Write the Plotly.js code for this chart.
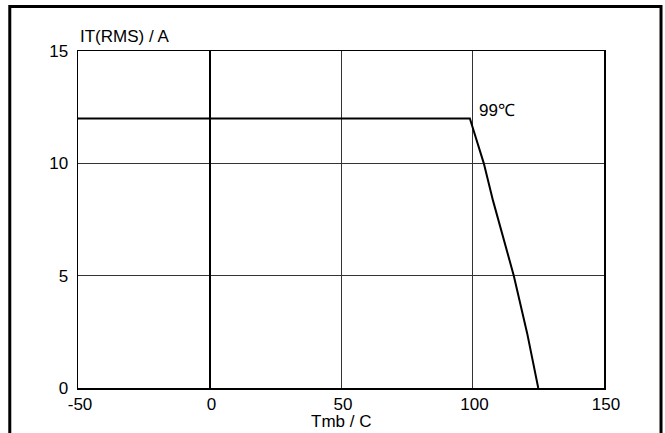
<!DOCTYPE html>
<html>
<head>
<meta charset="utf-8">
<script src="https://cdn.plot.ly/plotly-3.0.1.min.js"></script>
<style>
html,body{margin:0;padding:0;background:#fff;}
#chart{width:665px;height:433px;}
</style>
</head>
<body>
<div id="chart"></div>
<script>
// Derating curve: IT(RMS) vs mounting-base temperature
const tempC = [-50, 99, 104.3, 107.8, 115.7, 120.8, 125];
const itRms = [12, 12, 10, 8.34, 5, 2.43, 0];
const xTicks = [-50, 0, 50, 100, 150];
const yTicks = [0, 5, 10, 15];
const kneeLabel = "99℃";
const kneeLabelX = 101.6;
const kneeLabelY = 12.34;
const xTitle = "Tmb / C";
const yTitle = "IT(RMS) / A";

const font = {family: "Liberation Sans, Arial, sans-serif", size: 17, color: "#000"};

const data = [{
  x: tempC, y: itRms, type: "scatter", mode: "lines",
  line: {color: "#000", width: 2}, hoverinfo: "skip"
}];

const layout = {
  width: 665, height: 433,
  margin: {l: 78.3, r: 61, t: 50.5, b: 45},
  paper_bgcolor: "#fff", plot_bgcolor: "#fff",
  showlegend: false,
  font: font,
  xaxis: {
    range: [-50, 150], tickvals: xTicks, ticktext: xTicks.map(String),
    showgrid: true, gridcolor: "#333", gridwidth: 1,
    zeroline: true, zerolinecolor: "#000", zerolinewidth: 2,
    showline: true, linecolor: "#000", linewidth: 1.5, mirror: true,
    ticks: "", ticklen: 0, tickfont: font, fixedrange: true,
    ticklabelshift: 2
  },
  yaxis: {
    range: [0, 15], tickvals: yTicks, ticktext: yTicks.map(String),
    showgrid: true, gridcolor: "#333", gridwidth: 1,
    zeroline: false,
    showline: true, linecolor: "#000", linewidth: 1.5, mirror: true,
    ticks: "", ticklen: 0, tickfont: font, fixedrange: true,
    ticklabelstandoff: 5
  },
  annotations: [
    {xref: "paper", yref: "paper", x: 0.0, y: 1.0, xanchor: "left", yanchor: "bottom", yshift: 3,
     text: yTitle, showarrow: false, font: font},
    {xref: "paper", yref: "paper", x: 0.5, y: -0.065, xanchor: "center", yanchor: "top",
     text: xTitle, showarrow: false, font: font},
    {x: kneeLabelX, y: kneeLabelY, xanchor: "left", yanchor: "middle",
     text: kneeLabel, showarrow: false, font: font}
  ],
  shapes: [{
    type: "rect", xref: "paper", yref: "paper",
    x0: -0.1297, x1: 1.1084, y0: -0.2, y1: 1.1319,
    line: {color: "#000", width: 3}, fillcolor: "rgba(0,0,0,0)", layer: "above"
  }]
};

Plotly.newPlot("chart", data, layout, {displayModeBar: false, staticPlot: true});
</script>
</body>
</html>
